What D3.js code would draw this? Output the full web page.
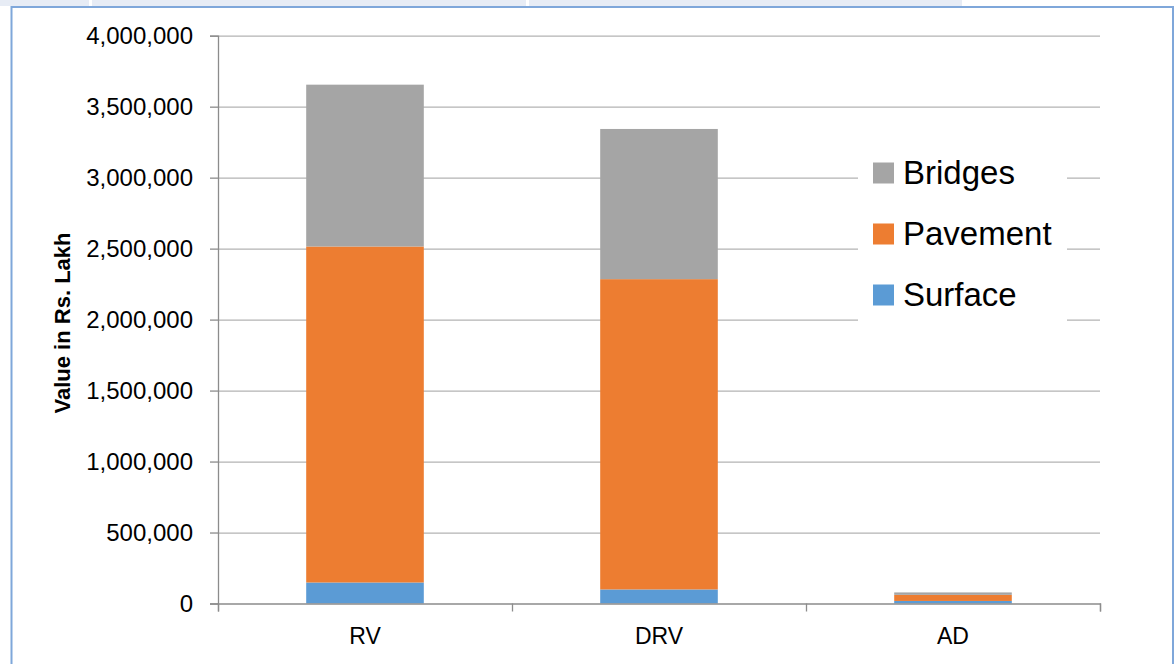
<!DOCTYPE html>
<html>
<head>
<meta charset="utf-8">
<script src="https://cdn.jsdelivr.net/npm/d3@7"></script>
<style>
  body { margin: 0; background: #fff; }
  text { font-family: "Liberation Sans", Arial, sans-serif; fill: #000; }
</style>
</head>
<body>
<div id="chart"></div>
<script>
// Chart data
const categories = ["RV", "DRV", "AD"];
const seriesNames = ["Surface", "Pavement", "Bridges"];
const surfaceValues = [148000, 99000, 18000];
const pavementValues = [2367000, 2186000, 43000];
const bridgesValues = [1140000, 1058000, 17000];
const yTicks = [0, 500000, 1000000, 1500000, 2000000, 2500000, 3000000, 3500000, 4000000];
const colors = { Surface: "#5b9bd5", Pavement: "#ed7d31", Bridges: "#a5a5a5" };

const width = 1174;
const height = 664;
const plot = { left: 218, right: 1100, top: 35.7, bottom: 603.5 };

const rows = categories.map((c, i) => ({
    category: c,
    Surface: surfaceValues[i],
    Pavement: pavementValues[i],
    Bridges: bridgesValues[i]
}));

const stacked = d3.stack().keys(seriesNames)(rows);

const svg = d3.select("#chart")
    .append("svg")
    .attr("width", width)
    .attr("height", height);

// Top strip and frame
svg.append("rect").attr("x", 0).attr("y", 0).attr("width", 962).attr("height", 6).attr("fill", "#e7ecf5");
svg.append("rect").attr("x", 89).attr("y", 0).attr("width", 3).attr("height", 6).attr("fill", "#fff");
svg.append("rect").attr("x", 526).attr("y", 0).attr("width", 3).attr("height", 6).attr("fill", "#fff");
svg.append("path")
    .attr("d", `M11.5,${height} V7 H1173 V${height}`)
    .attr("fill", "none")
    .attr("stroke", "#7fa7da")
    .attr("stroke-width", 2);

// Scales
const x = d3.scaleBand()
    .domain(categories)
    .range([plot.left, plot.right])
    .paddingInner(0.6)
    .paddingOuter(0.3);

const xEdges = d3.scaleLinear()
    .domain([0, categories.length])
    .range([plot.left, plot.right]);

const y = d3.scaleLinear()
    .domain([0, 4000000])
    .range([plot.bottom, plot.top]);

// Gridlines
svg.append("g")
    .attr("transform", `translate(${plot.left},0)`)
    .call(d3.axisLeft(y).tickValues(yTicks.slice(1)).tickSize(-(plot.right - plot.left)).tickFormat(""))
    .call(g => g.select(".domain").remove())
    .selectAll("line")
    .attr("stroke", "#b3b3b3")
    .attr("stroke-width", 1.3);

// Bars
svg.append("g")
    .selectAll("g")
    .data(stacked)
    .enter()
    .append("g")
    .attr("fill", d => colors[d.key])
    .selectAll("rect")
    .data(d => d)
    .enter()
    .append("rect")
    .attr("x", d => x(d.data.category))
    .attr("y", d => y(d[1]))
    .attr("width", x.bandwidth())
    .attr("height", d => y(d[0]) - y(d[1]));

// Y axis
const yAxis = svg.append("g")
    .attr("transform", `translate(${plot.left},0)`)
    .call(d3.axisLeft(y).tickValues(yTicks).tickSize(8).tickPadding(17).tickFormat(d3.format(",")));
yAxis.select(".domain").attr("stroke", "#8c8c8c").attr("stroke-width", 1.3);
yAxis.selectAll("line").attr("stroke", "#8c8c8c").attr("stroke-width", 1.3);
yAxis.selectAll("text").style("font-size", "24px").attr("fill", "#000");

// X axis
const xAxis = svg.append("g")
    .attr("transform", `translate(0,${plot.bottom})`)
    .call(d3.axisBottom(xEdges).tickValues(d3.range(categories.length + 1)).tickSize(8).tickFormat(""));
xAxis.select(".domain").attr("stroke", "#8c8c8c").attr("stroke-width", 1.3);
xAxis.selectAll("line").attr("stroke", "#8c8c8c").attr("stroke-width", 1.3);

const xLabels = svg.append("g")
    .attr("transform", `translate(0,${plot.bottom})`)
    .call(d3.axisBottom(x).tickSize(0).tickPadding(24));
xLabels.select(".domain").remove();
xLabels.selectAll("text").style("font-size", "23px").attr("fill", "#000");

// Y axis title
svg.append("text")
    .attr("transform", `translate(70,323) rotate(-90)`)
    .style("text-anchor", "middle")
    .style("font-size", "22px")
    .style("font-weight", "bold")
    .text("Value in Rs. Lakh");

// Legend
const legendOrder = ["Bridges", "Pavement", "Surface"];
const legend = svg.append("g");
legend.append("rect")
    .attr("x", 858).attr("y", 145).attr("width", 209).attr("height", 180)
    .attr("fill", "#fff");
const items = legend.selectAll("g.item")
    .data(legendOrder)
    .enter()
    .append("g")
    .attr("class", "item")
    .attr("transform", (d, i) => `translate(873,${183.5 + i * 61})`);
items.append("rect")
    .attr("x", 0).attr("y", -21).attr("width", 21).attr("height", 21)
    .attr("fill", d => colors[d]);
items.append("text")
    .attr("x", 30).attr("y", 0)
    .style("font-size", "33px")
    .text(d => d);
</script>
</body>
</html>
